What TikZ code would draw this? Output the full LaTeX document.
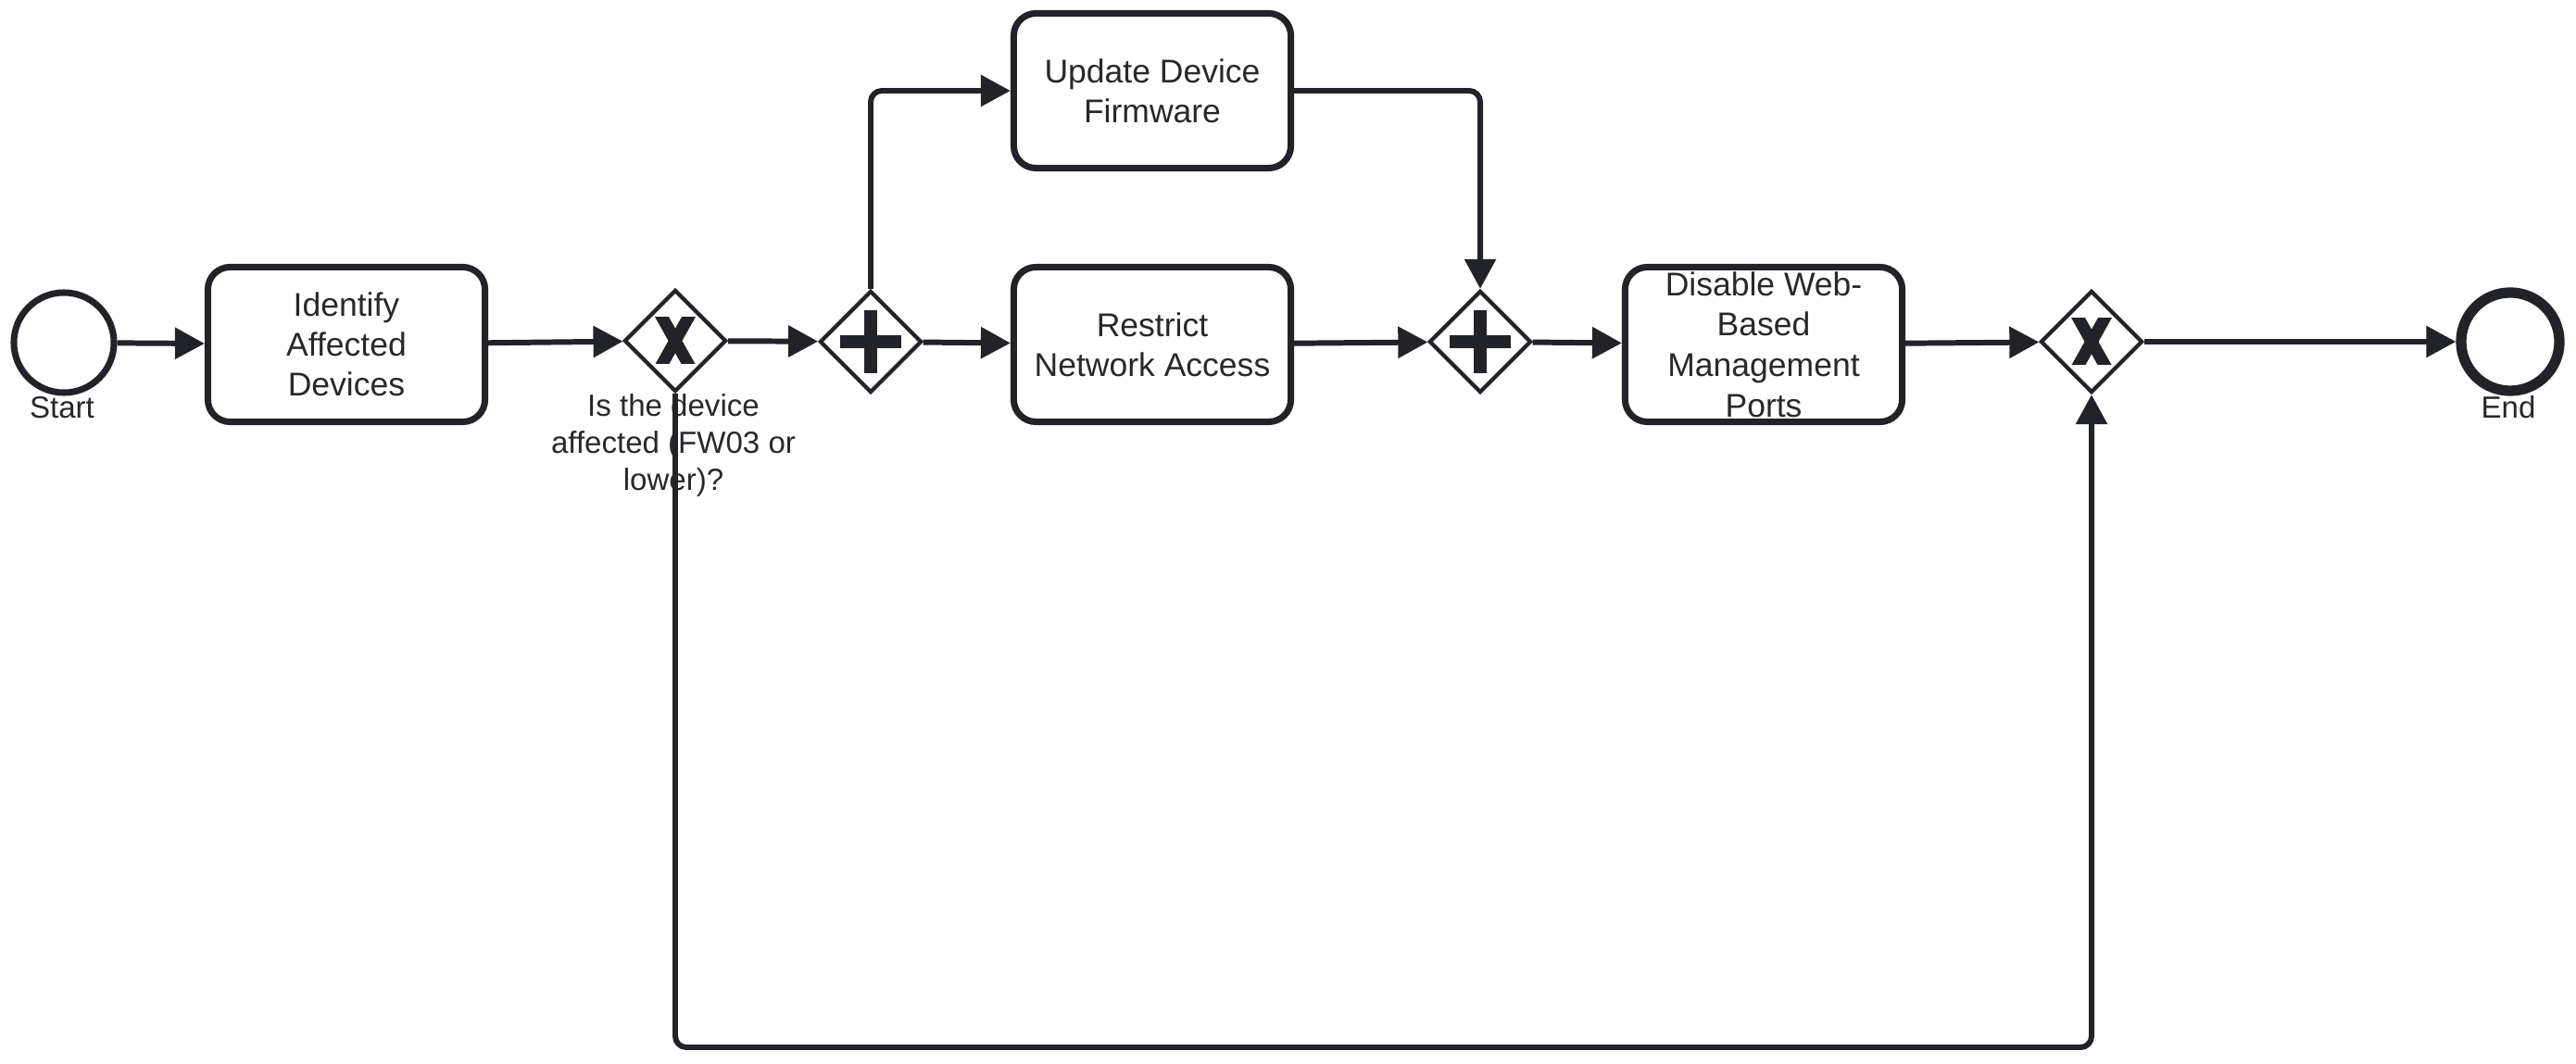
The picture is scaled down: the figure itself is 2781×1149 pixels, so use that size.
\documentclass[tikz,border=0pt]{standalone}
\usepackage{fontspec}
\setmainfont{Liberation Sans}
\usetikzlibrary{arrows.meta,shapes.geometric}
\definecolor{lc}{RGB}{34,35,40}
\definecolor{tc}{RGB}{40,40,44}
\begin{document}
\begin{tikzpicture}[x=0.01cm,y=-0.01cm,
  task/.style={draw=lc, line width=2pt, rounded corners=0.24cm, minimum width=2.99cm, minimum height=1.67cm, inner sep=0pt},
  tasktext/.style={align=center, font=\fontsize{10.1}{12.2}\selectfont, text=tc, inner sep=0pt},
  gw/.style={draw=lc, diamond, line width=1.2pt, minimum width=1.1cm, minimum height=1.1cm, inner sep=0pt},
  ev/.style={draw=lc, circle, line width=2pt, minimum size=1.08cm, inner sep=0pt},
  lbl/.style={font=\fontsize{9.4}{11.5}\selectfont, text=tc, align=center, inner sep=0pt},
  flow/.style={draw=lc, line width=1.7pt, -{Triangle[length=0.32cm,width=0.33cm]}},
  xmark/.style={draw=lc, line width=3.7pt},
  pmark/.style={draw=lc, line width=4pt}
]
\useasboundingbox (0,0) rectangle (2781,1149);

% events
\node[ev] (start) at (69,370) {};
\node[lbl] (startl) at (67,440) {Start};
\node[ev, line width=3.2pt, minimum size=1.06cm] (end) at (2710,369) {};
\node[lbl] (endl) at (2708,440) {End};

% tasks
\node[task] (ident) at (374,372) {};
\node[tasktext] (identt) at (ident.center) {Identify\\Affected\\Devices};
\node[task] (upd) at (1244,98) {};
\node[tasktext] (updt) at (upd.center) {Update Device\\Firmware};
\node[task] (rst) at (1244,372) {};
\node[tasktext] (rstt) at (rst.center) {Restrict\\Network Access};
\node[task] (dis) at (1904,372) {};
\node[tasktext, font=\fontsize{10.1}{12.4}\selectfont] (dist) at (dis.center) {Disable Web-\\Based\\Management\\Ports};

% gateways
\node[gw] (x1) at (729,368) {};
\node[gw] (a1) at (940,369) {};
\node[gw] (a2) at (1598,369) {};
\node[gw] (x2) at (2258,369) {};

\node[lbl] (x1l) at (727,481) {Is the device\\affected (FW03 or\\lower)?};

% markers
\foreach \g in {x1,x2}{
  \begin{scope}
    \clip ([shift={(-22,-25)}]\g.center) rectangle ([shift={(22,25)}]\g.center);
    \draw[xmark] ([shift={(-16.8,-30)}]\g.center) -- ([shift={(16.8,30)}]\g.center);
    \draw[xmark] ([shift={(16.8,-30)}]\g.center) -- ([shift={(-16.8,30)}]\g.center);
  \end{scope}
}
\foreach \g in {a1,a2}{
  \draw[pmark] ([shift={(-33,0)}]\g.center) -- ([shift={(33,0)}]\g.center);
  \draw[pmark] ([shift={(0,-34)}]\g.center) -- ([shift={(0,34)}]\g.center);
}

% flows
\coordinate (loopy) at (0,1131);
\draw[flow] (start) -- (ident);
\draw[flow] (ident) -- (x1);
\draw[flow] (x1) -- (a1);
\draw[flow] (a1) -- (rst);
\draw[flow] (rst) -- (a2);
\draw[flow] (a2) -- (dis);
\draw[flow] (dis) -- (x2);
\draw[flow] (x2) -- (end);
\draw[flow, rounded corners=0.12cm] (a1.north) |- (upd.west);
\draw[flow, rounded corners=0.12cm] (upd.east) -| (a2.north);
\draw[flow, rounded corners=0.12cm] (x1.south) -- (x1.south |- loopy) -- (x2.south |- loopy) -- (x2.south);
\end{tikzpicture}
\end{document}
